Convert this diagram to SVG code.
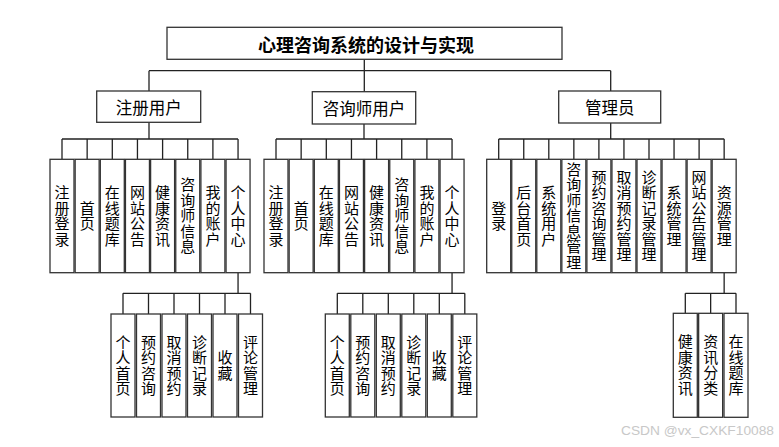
<svg xmlns="http://www.w3.org/2000/svg" width="779" height="447" viewBox="0 0 779 447">
<style>
.b{fill:#fff;stroke:#333;stroke-width:1.3}
.t{font-family:"Noto Sans CJK SC","Noto Sans",sans-serif;fill:#000}
.v{font-size:15px;text-anchor:middle;writing-mode:vertical-rl;letter-spacing:0.5px}
.c{fill:none;stroke:#222;stroke-width:1.3}
</style>
<rect width="779" height="447" fill="#fff"/>
<g id="connectors">
<path class="c" d="M364.3 59.3V70.7M149 70.7H610.7M149 70.7V91M364.3 70.7V91.7M610.7 70.7V91"/>
<path class="c" d="M149 122.3V139M62 139H238M62 139V159.3M87.15 139V159.3M112.3 139V159.3M137.45 139V159.3M162.6 139V159.3M187.75 139V159.3M212.9 139V159.3M238.05 139V159.3"/>
<path class="c" d="M364 124V139M276 139H452M276 139V159.3M301.15 139V159.3M326.3 139V159.3M351.45 139V159.3M376.6 139V159.3M401.75 139V159.3M426.9 139V159.3M452.05 139V159.3"/>
<path class="c" d="M610.7 123V139M498.7 139H724.2M498.7 139V159.3M523.75 139V159.3M548.8 139V159.3M573.85 139V159.3M598.9 139V159.3M623.95 139V159.3M649 139V159.3M674.05 139V159.3M699.1 139V159.3M724.15 139V159.3"/>
<path class="c" d="M238.05 272.7V293.3M123 293.3H250.5M123 293.3V314M148.5 293.3V314M174 293.3V314M199.5 293.3V314M225 293.3V314M250.5 293.3V314"/>
<path class="c" d="M452.05 272.7V293.3M337.3 293.3H464.8M337.3 293.3V314M362.8 293.3V314M388.3 293.3V314M413.8 293.3V314M439.3 293.3V314M464.8 293.3V314"/>
<path class="c" d="M724.15 272.7V293.3M685.3 293.3H736M685.3 293.3V313.3M710.65 293.3V313.3M736 293.3V313.3"/>
</g>
<g id="root"><rect class="b" x="167" y="27.3" width="395" height="32"/><text class="t" x="366" y="44" font-size="18" font-weight="bold" text-anchor="middle" dominant-baseline="central">心理咨询系统的设计与实现</text></g>
<g id="reg"><rect class="b" x="96.7" y="91" width="104" height="31.3"/><text class="t" x="148.7" y="107" font-size="16.5" text-anchor="middle" dominant-baseline="central">注册用户</text></g>
<g id="cons"><rect class="b" x="312.3" y="91.7" width="103.4" height="32.3"/><text class="t" x="364" y="108" font-size="16.5" text-anchor="middle" dominant-baseline="central">咨询师用户</text></g>
<g id="admin"><rect class="b" x="558.7" y="91" width="102" height="32"/><text class="t" x="609.7" y="107" font-size="16.5" text-anchor="middle" dominant-baseline="central">管理员</text></g>

<g id="r1"><rect class="b" x="50" y="159.3" width="24" height="113.4"/><text class="t v" x="62" y="216">注册登录</text></g>
<g id="r2"><rect class="b" x="75.15" y="159.3" width="24" height="113.4"/><text class="t v" x="87.15" y="216">首页</text></g>
<g id="r3"><rect class="b" x="100.3" y="159.3" width="24" height="113.4"/><text class="t v" x="112.3" y="216">在线题库</text></g>
<g id="r4"><rect class="b" x="125.45" y="159.3" width="24" height="113.4"/><text class="t v" x="137.45" y="216">网站公告</text></g>
<g id="r5"><rect class="b" x="150.6" y="159.3" width="24" height="113.4"/><text class="t v" x="162.6" y="216">健康资讯</text></g>
<g id="r6"><rect class="b" x="175.75" y="159.3" width="24" height="113.4"/><text class="t v" x="187.75" y="216">咨询师信息</text></g>
<g id="r7"><rect class="b" x="200.9" y="159.3" width="24" height="113.4"/><text class="t v" x="212.9" y="216">我的账户</text></g>
<g id="r8"><rect class="b" x="226.05" y="159.3" width="24" height="113.4"/><text class="t v" x="238.05" y="216">个人中心</text></g>

<g id="c1"><rect class="b" x="264" y="159.3" width="24" height="113.4"/><text class="t v" x="276" y="216">注册登录</text></g>
<g id="c2"><rect class="b" x="289.15" y="159.3" width="24" height="113.4"/><text class="t v" x="301.15" y="216">首页</text></g>
<g id="c3"><rect class="b" x="314.3" y="159.3" width="24" height="113.4"/><text class="t v" x="326.3" y="216">在线题库</text></g>
<g id="c4"><rect class="b" x="339.45" y="159.3" width="24" height="113.4"/><text class="t v" x="351.45" y="216">网站公告</text></g>
<g id="c5"><rect class="b" x="364.6" y="159.3" width="24" height="113.4"/><text class="t v" x="376.6" y="216">健康资讯</text></g>
<g id="c6"><rect class="b" x="389.75" y="159.3" width="24" height="113.4"/><text class="t v" x="401.75" y="216">咨询师信息</text></g>
<g id="c7"><rect class="b" x="414.9" y="159.3" width="24" height="113.4"/><text class="t v" x="426.9" y="216">我的账户</text></g>
<g id="c8"><rect class="b" x="440.05" y="159.3" width="24" height="113.4"/><text class="t v" x="452.05" y="216">个人中心</text></g>

<g id="a1"><rect class="b" x="486.7" y="159.3" width="24" height="113.4"/><text class="t v" x="498.7" y="216">登录</text></g>
<g id="a2"><rect class="b" x="511.75" y="159.3" width="24" height="113.4"/><text class="t v" x="523.75" y="216">后台首页</text></g>
<g id="a3"><rect class="b" x="536.8" y="159.3" width="24" height="113.4"/><text class="t v" x="548.8" y="216">系统用户</text></g>
<g id="a4"><rect class="b" x="561.85" y="159.3" width="24" height="113.4"/><text class="t v" x="573.85" y="216">咨询师信息管理</text></g>
<g id="a5"><rect class="b" x="586.9" y="159.3" width="24" height="113.4"/><text class="t v" x="598.9" y="216">预约咨询管理</text></g>
<g id="a6"><rect class="b" x="611.95" y="159.3" width="24" height="113.4"/><text class="t v" x="623.95" y="216">取消预约管理</text></g>
<g id="a7"><rect class="b" x="637" y="159.3" width="24" height="113.4"/><text class="t v" x="649" y="216">诊断记录管理</text></g>
<g id="a8"><rect class="b" x="662.05" y="159.3" width="24" height="113.4"/><text class="t v" x="674.05" y="216">系统管理</text></g>
<g id="a9"><rect class="b" x="687.1" y="159.3" width="24" height="113.4"/><text class="t v" x="699.1" y="216">网站公告管理</text></g>
<g id="a10"><rect class="b" x="712.15" y="159.3" width="24" height="113.4"/><text class="t v" x="724.15" y="216">资源管理</text></g>

<g id="rs1"><rect class="b" x="111" y="314" width="24" height="103"/><text class="t v" x="123" y="365.5">个人首页</text></g>
<g id="rs2"><rect class="b" x="136.5" y="314" width="24" height="103"/><text class="t v" x="148.5" y="365.5">预约咨询</text></g>
<g id="rs3"><rect class="b" x="162" y="314" width="24" height="103"/><text class="t v" x="174" y="365.5">取消预约</text></g>
<g id="rs4"><rect class="b" x="187.5" y="314" width="24" height="103"/><text class="t v" x="199.5" y="365.5">诊断记录</text></g>
<g id="rs5"><rect class="b" x="213" y="314" width="24" height="103"/><text class="t v" x="225" y="365.5">收藏</text></g>
<g id="rs6"><rect class="b" x="238.5" y="314" width="24" height="103"/><text class="t v" x="250.5" y="365.5">评论管理</text></g>

<g id="cs1"><rect class="b" x="325.3" y="314" width="24" height="103"/><text class="t v" x="337.3" y="365.5">个人首页</text></g>
<g id="cs2"><rect class="b" x="350.8" y="314" width="24" height="103"/><text class="t v" x="362.8" y="365.5">预约咨询</text></g>
<g id="cs3"><rect class="b" x="376.3" y="314" width="24" height="103"/><text class="t v" x="388.3" y="365.5">取消预约</text></g>
<g id="cs4"><rect class="b" x="401.8" y="314" width="24" height="103"/><text class="t v" x="413.8" y="365.5">诊断记录</text></g>
<g id="cs5"><rect class="b" x="427.3" y="314" width="24" height="103"/><text class="t v" x="439.3" y="365.5">收藏</text></g>
<g id="cs6"><rect class="b" x="452.8" y="314" width="24" height="103"/><text class="t v" x="464.8" y="365.5">评论管理</text></g>

<g id="as1"><rect class="b" x="673.3" y="313.3" width="24" height="104"/><text class="t v" x="685.3" y="365.3">健康资讯</text></g>
<g id="as2"><rect class="b" x="698.65" y="313.3" width="24" height="104"/><text class="t v" x="710.65" y="365.3">资讯分类</text></g>
<g id="as3"><rect class="b" x="724" y="313.3" width="24" height="104"/><text class="t v" x="736" y="365.3">在线题库</text></g>

<text x="621" y="435" font-family="Liberation Sans, sans-serif" font-size="13" fill="#c8c8c8" textLength="153" lengthAdjust="spacingAndGlyphs">CSDN @vx_CXKF10088</text>
</svg>
